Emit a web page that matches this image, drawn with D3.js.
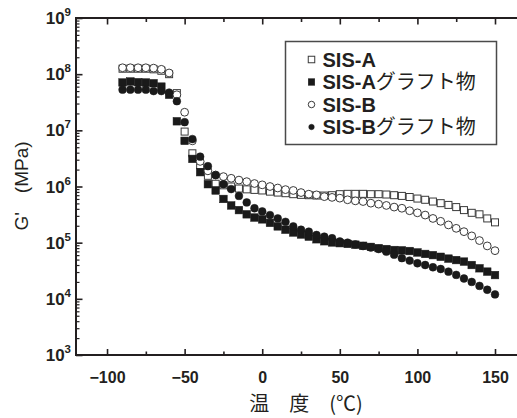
<!DOCTYPE html>
<html>
<head>
<meta charset="utf-8">
<script src="https://cdn.jsdelivr.net/npm/d3@7"></script>
<style>
	body { margin: 0; background: #fff; }
	svg { display: block; font-family: "Liberation Sans", Arial, "Noto Sans CJK JP", sans-serif; }
</style>
</head>
<body>
<svg id="chart" width="517" height="418"></svg>
<script>
// temperatures (°C)
const temps = [-90, -85, -80, -75, -70, -65, -60, -55, -50, -45, -40, -35, -30, -25, -20, -15, -10, -5,
	0, 5, 10, 15, 20, 25, 30, 35, 40, 45, 50, 55, 60, 65, 70, 75, 80, 85, 90, 95, 100, 105, 110, 115,
	120, 125, 130, 135, 140, 145, 150];

// G' (MPa)
const sisA = [1.25e8, 1.25e8, 1.25e8, 1.25e8, 1.22e8, 1.15e8, 1.0e8, 4.6e7, 9.5e6, 3.9e6, 2.4e6, 1.55e6,
	1.12e6, 1.05e6, 1.0e6, 9.2e5, 8.9e5, 8.7e5, 8.5e5, 8.1e5, 7.8e5, 7.6e5, 7.3e5, 7.1e5, 7.0e5, 6.9e5,
	6.9e5, 7.0e5, 7.3e5, 7.4e5, 7.4e5, 7.4e5, 7.3e5, 7.3e5, 7.2e5, 7.0e5, 6.8e5, 6.5e5, 6.1e5, 5.8e5,
	5.4e5, 5.05e5, 4.7e5, 4.3e5, 3.8e5, 3.4e5, 3.2e5, 2.7e5, 2.3e5];
const sisAGraft = [7.1e7, 7.4e7, 7.2e7, 7.1e7, 6.9e7, 6.0e7, 4.3e7, 1.45e7, 6.5e6, 3.1e6, 1.8e6, 1.1e6,
	8.5e5, 6.0e5, 4.6e5, 3.8e5, 3.2e5, 2.8e5, 2.6e5, 2.25e5, 1.95e5, 1.7e5, 1.52e5, 1.4e5, 1.28e5,
	1.15e5, 1.06e5, 1.01e5, 9.8e4, 9.5e4, 9.2e4, 8.8e4, 8.4e4, 8.0e4, 7.7e4, 7.4e4, 7.3e4, 7.1e4,
	6.7e4, 6.3e4, 6.0e4, 5.6e4, 5.2e4, 4.9e4, 4.6e4, 4.0e4, 3.5e4, 3.05e4, 2.65e4];
const sisB = [1.3e8, 1.3e8, 1.3e8, 1.3e8, 1.28e8, 1.22e8, 1.05e8, 4.3e7, 2.1e7, 6.5e6, 2.8e6, 1.9e6,
	1.6e6, 1.5e6, 1.4e6, 1.3e6, 1.22e6, 1.13e6, 1.07e6, 1.0e6, 9.4e5, 8.8e5, 8.5e5, 7.8e5, 7.3e5,
	7.1e5, 6.6e5, 6.4e5, 6.2e5, 5.8e5, 5.55e5, 5.4e5, 5.05e5, 4.85e5, 4.6e5, 4.3e5, 4.1e5, 3.7e5,
	3.4e5, 3.1e5, 2.7e5, 2.4e5, 2.07e5, 1.8e5, 1.57e5, 1.32e5, 1.09e5, 8.75e4, 7.2e4];
const sisBGraft = [5.3e7, 5.3e7, 5.3e7, 5.3e7, 5.0e7, 5.0e7, 4.7e7, 3.3e7, 1.4e7, 7.0e6, 3.4e6, 2.3e6,
	1.6e6, 1.1e6, 9.0e5, 6.8e5, 5.2e5, 4.1e5, 3.6e5, 3.1e5, 2.7e5, 2.35e5, 1.95e5, 1.7e5, 1.57e5,
	1.37e5, 1.28e5, 1.2e5, 1.05e5, 1.0e5, 9.3e4, 8.7e4, 8.2e4, 7.7e4, 6.9e4, 6.1e4, 5.3e4, 4.8e4,
	4.3e4, 4.0e4, 3.65e4, 3.4e4, 3.05e4, 2.67e4, 2.3e4, 2.0e4, 1.7e4, 1.45e4, 1.2e4];

const legendLabels = ['SIS-A', 'SIS-Aグラフト物', 'SIS-B', 'SIS-Bグラフト物'];
const xMajor = [-100, -50, 0, 50, 100, 150],
	xMinor = [-75, -25, 25, 75, 125];
const yDecades = [3, 4, 5, 6, 7, 8, 9];

const W = 517, H = 418, INK = '#231f20';

const x = d3.scaleLinear().domain([-120, 150]).range([76, 495]);
const y = d3.scaleLog().domain([1e3, 1e9]).range([355, 18]);

const svg = d3.select('#chart');

// series: values, shape, filled
const series = [
	{ values: sisA, shape: 'square', filled: false },
	{ values: sisAGraft, shape: 'square', filled: true },
	{ values: sisB, shape: 'circle', filled: false },
	{ values: sisBGraft, shape: 'circle', filled: true }
];

function drawMarker(sel, shape, filled, size) {
	if (shape === 'square') {
		sel.append('rect')
			.attr('x', -size / 2).attr('y', -size / 2)
			.attr('width', size).attr('height', size);
	} else {
		sel.append('circle').attr('r', size / 2);
	}
	sel.selectAll('rect,circle')
		.attr('fill', filled ? '#1a1a1a' : '#fff')
		.attr('stroke', filled ? '#1a1a1a' : '#3a3a3a')
		.attr('stroke-width', filled ? 0.5 : 1);
}

// data
series.forEach(s => {
	svg.append('g').selectAll('g')
		.data(temps.map((t, i) => [t, s.values[i]]))
		.join('g')
		.attr('transform', d => `translate(${x(d[0])},${y(d[1])})`)
		.each(function() {
			drawMarker(d3.select(this), s.shape, s.filled, s.shape === 'square' ? (s.filled ? 7.6 : 7) : 7.8);
		});
});

// axes
const axisG = svg.append('g').attr('stroke', INK);

// frame lines (bottom, top, left); right edge is cut off
axisG.append('line').attr('x1', x.range()[0]).attr('x2', W).attr('y1', y.range()[0]).attr('y2', y.range()[0]).attr('stroke-width', 2);
axisG.append('line').attr('x1', x.range()[0]).attr('x2', W).attr('y1', y.range()[1]).attr('y2', y.range()[1]).attr('stroke-width', 2);
axisG.append('line').attr('x1', x.range()[0]).attr('x2', x.range()[0]).attr('y1', y.range()[0] + 1).attr('y2', y.range()[1] - 1).attr('stroke-width', 2);

const tickStyle = g => {
	g.select('.domain').remove();
	g.selectAll('.tick line').attr('stroke', INK).attr('stroke-width', 1.6);
};

svg.append('g')
	.attr('transform', `translate(0,${y.range()[0]})`)
	.call(d3.axisBottom(x).tickValues(xMajor).tickSizeInner(-6).tickSizeOuter(0).tickPadding(17))
	.call(tickStyle)
	.call(g => g.selectAll('text')
		.attr('fill', INK).attr('font-size', 16).attr('font-weight', 'bold')
		.attr('font-family', '"Liberation Sans", Arial, sans-serif'));
svg.append('g')
	.attr('transform', `translate(0,${y.range()[0]})`)
	.call(d3.axisBottom(x).tickValues(xMinor).tickSizeInner(-3.5).tickSizeOuter(0).tickFormat(''))
	.call(tickStyle);
svg.append('g')
	.attr('transform', `translate(0,${y.range()[1]})`)
	.call(d3.axisTop(x).tickValues(xMajor).tickSizeInner(-6.5).tickSizeOuter(0).tickFormat(''))
	.call(tickStyle);
svg.append('g')
	.attr('transform', `translate(0,${y.range()[1]})`)
	.call(d3.axisTop(x).tickValues(xMinor).tickSizeInner(-4).tickSizeOuter(0).tickFormat(''))
	.call(tickStyle);

const yMinor = [];
yDecades.slice(0, -1).forEach(e => d3.range(2, 10).forEach(m => yMinor.push(m * Math.pow(10, e))));
svg.append('g')
	.attr('transform', `translate(${x.range()[0]},0)`)
	.call(d3.axisLeft(y).tickValues(yDecades.map(e => Math.pow(10, e))).tickSizeInner(-6.5).tickSizeOuter(0).tickFormat(''))
	.call(tickStyle);
svg.append('g')
	.attr('transform', `translate(${x.range()[0]},0)`)
	.call(d3.axisLeft(y).tickValues(yMinor).tickSizeInner(-3.5).tickSizeOuter(0).tickFormat(''))
	.call(tickStyle)
	.call(g => g.selectAll('.tick line').attr('stroke-width', 1.2));

// y tick labels 10^n
const yLab = svg.append('g').selectAll('text')
	.data(yDecades)
	.join('text')
	.attr('x', 71)
	.attr('y', d => y(Math.pow(10, d)) + 6)
	.attr('text-anchor', 'end')
	.attr('fill', INK)
	.attr('font-weight', 'bold')
	.attr('font-size', 17);
yLab.append('tspan').text('10');
yLab.append('tspan').attr('dy', -8).attr('font-size', 11.5).text(d => d);

// axis titles
svg.append('text')
	.attr('transform', 'translate(28,186) rotate(-90)')
	.attr('text-anchor', 'middle')
	.attr('fill', INK)
	.attr('font-size', 19)
	.text("G'\u3000(MPa)");
svg.append('text')
	.attr('x', 306).attr('y', 411)
	.attr('text-anchor', 'middle')
	.attr('fill', INK)
	.attr('font-size', 20)
	.attr('font-family', '"Noto Sans CJK JP", sans-serif')
	.text('温\u3000度\u3000(℃)');

// legend
const legend = svg.append('g');
legend.append('rect')
	.attr('x', 285.5).attr('y', 41.5).attr('width', 211).attr('height', 103)
	.attr('fill', '#fff').attr('stroke', '#4a4a4a').attr('stroke-width', 1.5);
const rows = legend.selectAll('g.row')
	.data(series.map((s, i) => ({ ...s, label: legendLabels[i] })))
	.join('g')
	.attr('class', 'row')
	.attr('transform', (d, i) => `translate(311.5,${59.5 + i * 22.5})`);
rows.each(function(d) {
	drawMarker(d3.select(this), d.shape, d.filled, d.shape === 'square' ? 6.5 : (d.filled ? 5.5 : 6.5));
});
const lt = rows.append('text')
	.attr('x', 11).attr('y', 7)
	.attr('fill', INK)
	.attr('font-size', 20);
lt.append('tspan').attr('font-weight', 'bold').text(d => d.label.slice(0, 5));
lt.append('tspan')
	.attr('font-family', '"Noto Sans CJK JP", sans-serif')
	.text(d => d.label.slice(5));
</script>
</body>
</html>
